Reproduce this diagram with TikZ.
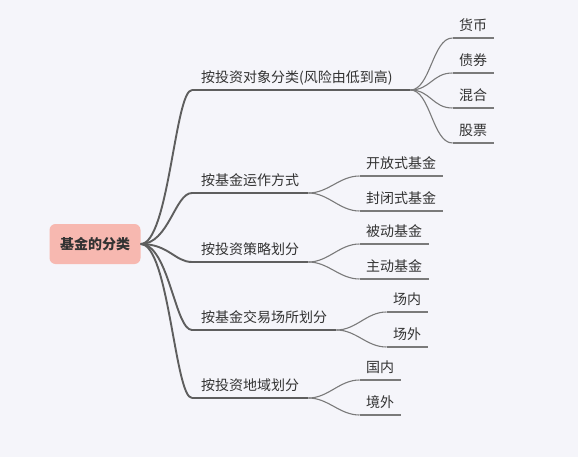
\documentclass[tikz,border=0pt]{standalone}
\usepackage{fontspec}
\setmainfont{Noto Sans CJK SC}
\usetikzlibrary{positioning}
\definecolor{bgpaper}{HTML}{F5F5FA}
\definecolor{rootpink}{HTML}{F7B8B0}
\definecolor{branchgray}{HTML}{5E5E5E}
\definecolor{twiggray}{HTML}{7A7A7A}
\definecolor{inkdark}{HTML}{333333}

\begin{document}
\begin{tikzpicture}[x=1pt, y=-1pt, font=\fontsize{14}{16}\selectfont, text=inkdark,
    rootbox/.style={rectangle, rounded corners=6pt, fill=rootpink,
                    minimum width=91pt, minimum height=40pt, font=\fontsize{14}{16}\selectfont\bfseries},
    topic/.style={anchor=south west, inner xsep=9pt, inner ysep=5pt,
                  text height=11pt, text depth=2pt},
    subtopic/.style={anchor=south west, inner xsep=6.5pt, inner ysep=5pt,
                     text height=11pt, text depth=2pt},
    trunk/.style={draw=branchgray, line width=1.9pt},
    twig/.style={draw=twiggray, line width=1.1pt}]

% canvas
\fill[bgpaper] (0,0) rectangle (578,457);

% central topic
\node[rootbox] (root) at (95,244) {基金的分类};

% main branches
\node[topic, text width=200pt] (byasset) at (192, 90) {按投资对象分类(风险由低到高)};
\node[topic] (byop)    at (192,193) {按基金运作方式};
\node[topic] (bystrat) at (192,262) {按投资策略划分};
\node[topic] (bymkt)   at (192,330) {按基金交易场所划分};
\node[topic] (byreg)   at (192,398) {按投资地域划分};

% leaves
\node[subtopic] (money)  at (452.5, 38) {货币};
\node[subtopic] (bond)   at (452.5, 73) {债券};
\node[subtopic] (mixed)  at (452.5,108) {混合};
\node[subtopic] (stock)  at (452.5,143) {股票};
\node[subtopic] (open)   at (359.5,176) {开放式基金};
\node[subtopic] (closed) at (359.5,211) {封闭式基金};
\node[subtopic] (passive) at (359.5,244) {被动基金};
\node[subtopic] (active)  at (359.5,279) {主动基金};
\node[subtopic] (onex)   at (386.5,312) {场内};
\node[subtopic] (offex)  at (386.5,347) {场外};
\node[subtopic] (home)   at (359.5,380) {国内};
\node[subtopic] (abroad) at (359.5,415) {境外};

% root to main branches
\foreach \b in {byasset,byop,bystrat,bymkt,byreg}{
  \draw[trunk] (root.east) .. controls +(28,0) and +(-17,0) .. (\b.south west);
  \draw[trunk] (\b.south west) -- (\b.south east);
}

% main branches to leaves
\foreach \p/\c in {byasset/money,byasset/bond,byasset/mixed,byasset/stock,
                   byop/open,byop/closed,bystrat/passive,bystrat/active,
                   bymkt/onex,bymkt/offex,byreg/home,byreg/abroad}{
  \draw[twig] (\p.south east) .. controls +(20,0) and +(-20,0) .. (\c.south west);
  \draw[twig] (\c.south west) -- (\c.south east);
}

\end{tikzpicture}
\end{document}
